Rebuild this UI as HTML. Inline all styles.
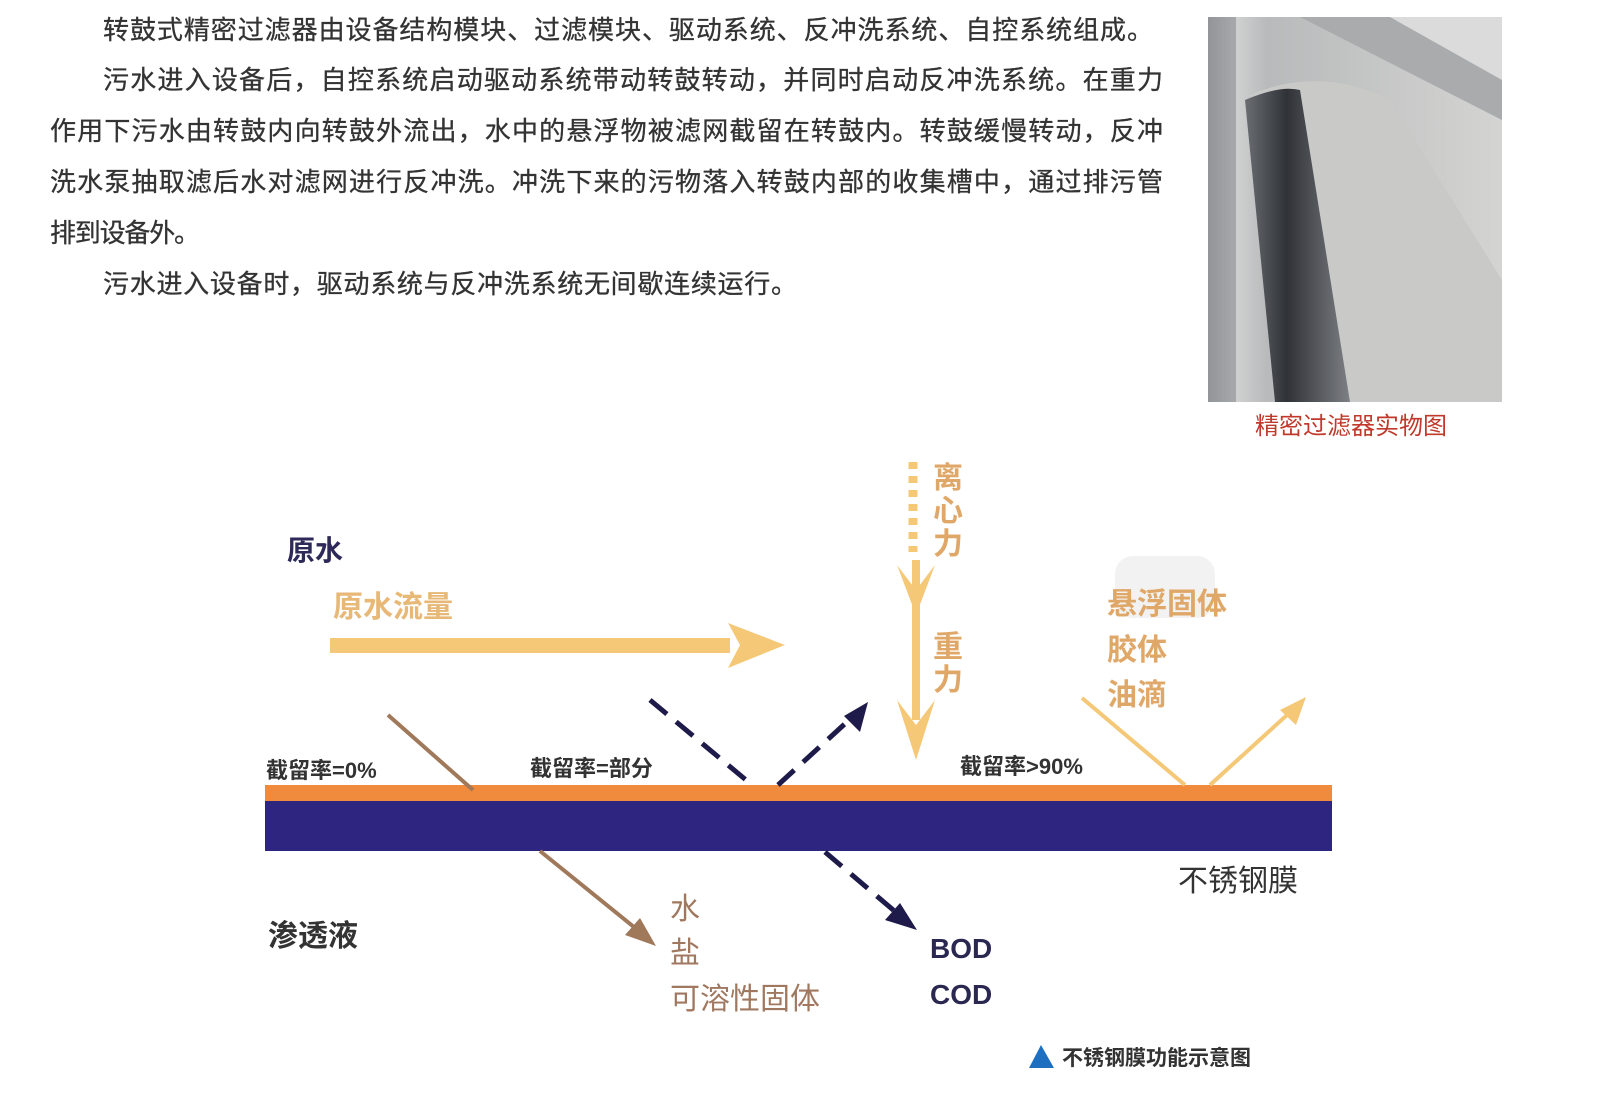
<!DOCTYPE html>
<html><head><meta charset="utf-8"><style>
html,body{margin:0;padding:0;background:#fff;}
svg{display:block;}
text{font-family:"Liberation Sans","Noto Sans CJK SC",sans-serif;}
</style></head><body>
<svg width="1603" height="1120" viewBox="0 0 1603 1120" xmlns="http://www.w3.org/2000/svg">
<defs>
<linearGradient id="ph" x1="0" y1="0" x2="1" y2="0">
<stop offset="0" stop-color="#9a9c9e"/><stop offset="0.1" stop-color="#cfd0d0"/><stop offset="0.2" stop-color="#b8babb"/><stop offset="1" stop-color="#d4d4d2"/>
</linearGradient>
<linearGradient id="drum" x1="0" y1="0" x2="1" y2="0">
<stop offset="0" stop-color="#6a6d72"/><stop offset="0.4" stop-color="#2f3237"/><stop offset="1" stop-color="#7d8085"/>
</linearGradient>
</defs>
<g font-size="26" fill="#333" stroke="#333" stroke-width="0.3">
<text x="103" y="39" textLength="1050" lengthAdjust="spacing">转鼓式精密过滤器由设备结构模块、过滤模块、驱动系统、反冲洗系统、自控系统组成。</text>
<text x="103" y="89" textLength="1060" lengthAdjust="spacing">污水进入设备后，自控系统启动驱动系统带动转鼓转动，并同时启动反冲洗系统。在重力</text>
<text x="50" y="140" textLength="1113" lengthAdjust="spacing">作用下污水由转鼓内向转鼓外流出，水中的悬浮物被滤网截留在转鼓内。转鼓缓慢转动，反冲</text>
<text x="50" y="191" textLength="1113" lengthAdjust="spacing">洗水泵抽取滤后水对滤网进行反冲洗。冲洗下来的污物落入转鼓内部的收集槽中，通过排污管</text>
<text x="50" y="242" textLength="150" lengthAdjust="spacing">排到设备外。</text>
<text x="103" y="293" textLength="694" lengthAdjust="spacing">污水进入设备时，驱动系统与反冲洗系统无间歇连续运行。</text>
</g>
<!-- photo -->
<rect x="1208" y="17" width="294" height="385" fill="url(#ph)"/>
<polygon points="1300,17 1502,17 1502,120" fill="#a9abad"/>
<polygon points="1390,17 1502,17 1502,80" fill="#dadbda"/>
<path d="M1250,95 Q1320,65 1390,100 L1502,280 L1502,402 L1345,402 Z" fill="#c9cac8"/>
<path d="M1245,100 Q1280,85 1300,90 L1350,402 L1275,402 Z" fill="url(#drum)"/>
<rect x="1208" y="17" width="28" height="385" fill="#8e9194" opacity="0.6"/>
<text x="1255" y="434" font-size="24" fill="#c0392b">精密过滤器实物图</text>
<!-- diagram -->
<rect x="1115" y="556" width="100" height="62" rx="18" fill="#f2f2f2"/>
<rect x="265" y="785" width="1067" height="16" fill="#f08a3c"/>
<rect x="265" y="801" width="1067" height="50" fill="#2e2580"/>
<rect x="330" y="638" width="400" height="15" fill="#f5c878"/>
<polygon points="728,623 785,645 728,668 740,645" fill="#f5c878"/>
<line x1="913" y1="462" x2="913" y2="552" stroke="#f5c878" stroke-width="9" stroke-dasharray="7,7"/>
<line x1="916" y1="560" x2="916" y2="720" stroke="#f5c878" stroke-width="8"/>
<polygon points="897,565 916,615 935,565 916,590" fill="#f5c878"/>
<polygon points="897,700 916,760 935,700 916,725" fill="#f5c878"/>
<line x1="388" y1="715" x2="473" y2="790" stroke="#a0785a" stroke-width="4"/>
<line x1="540" y1="851" x2="650" y2="940" stroke="#a0785a" stroke-width="4"/>
<polygon points="656,946 625,935 640,918" fill="#a0785a"/>
<line x1="650" y1="700" x2="752" y2="785" stroke="#1e1a4a" stroke-width="5" stroke-dasharray="22,12"/>
<line x1="778" y1="785" x2="860" y2="710" stroke="#1e1a4a" stroke-width="5" stroke-dasharray="22,12"/>
<polygon points="868,702 860,732 844,716" fill="#1e1a4a"/>
<line x1="825" y1="852" x2="905" y2="920" stroke="#1e1a4a" stroke-width="5" stroke-dasharray="22,12"/>
<polygon points="917,930 885,920 900,903" fill="#1e1a4a"/>
<line x1="1082" y1="698" x2="1185" y2="785" stroke="#f5c878" stroke-width="4"/>
<line x1="1210" y1="785" x2="1298" y2="705" stroke="#f5c878" stroke-width="4"/>
<polygon points="1306,697 1296,725 1280,710" fill="#f5c878"/>
<text x="287" y="560" font-size="28" font-weight="bold" fill="#2d2a5a">原水</text>
<text x="333" y="617" font-size="30" font-weight="bold" fill="#e8b877">原水流量</text>
<g font-size="30" fill="#e0a868" font-weight="bold">
<text x="933" y="488">离</text><text x="933" y="521">心</text><text x="933" y="554">力</text>
<text x="933" y="657">重</text><text x="933" y="690">力</text>
<text x="1107" y="614">悬浮固体</text>
<text x="1107" y="660">胶体</text>
<text x="1107" y="705">油滴</text>
</g>
<g font-size="22" font-weight="bold" fill="#333">
<text x="266" y="778">截留率=0%</text>
<text x="530" y="776">截留率=部分</text>
<text x="960" y="774">截留率&gt;90%</text>
</g>
<text x="1178" y="891" font-size="30" fill="#333">不锈钢膜</text>
<text x="268" y="946" font-size="30" font-weight="bold" fill="#333">渗透液</text>
<g font-size="30" fill="#a07860">
<text x="670" y="919">水</text><text x="670" y="963">盐</text><text x="670" y="1009">可溶性固体</text>
</g>
<text x="930" y="958" font-size="28" font-weight="bold" fill="#2a2850">BOD</text>
<text x="930" y="1004" font-size="28" font-weight="bold" fill="#2a2850">COD</text>
<polygon points="1041,1045 1029,1068 1054,1068" fill="#1f6fc0"/>
<text x="1062" y="1065" font-size="21" font-weight="bold" fill="#333">不锈钢膜功能示意图</text>
</svg>
</body></html>
